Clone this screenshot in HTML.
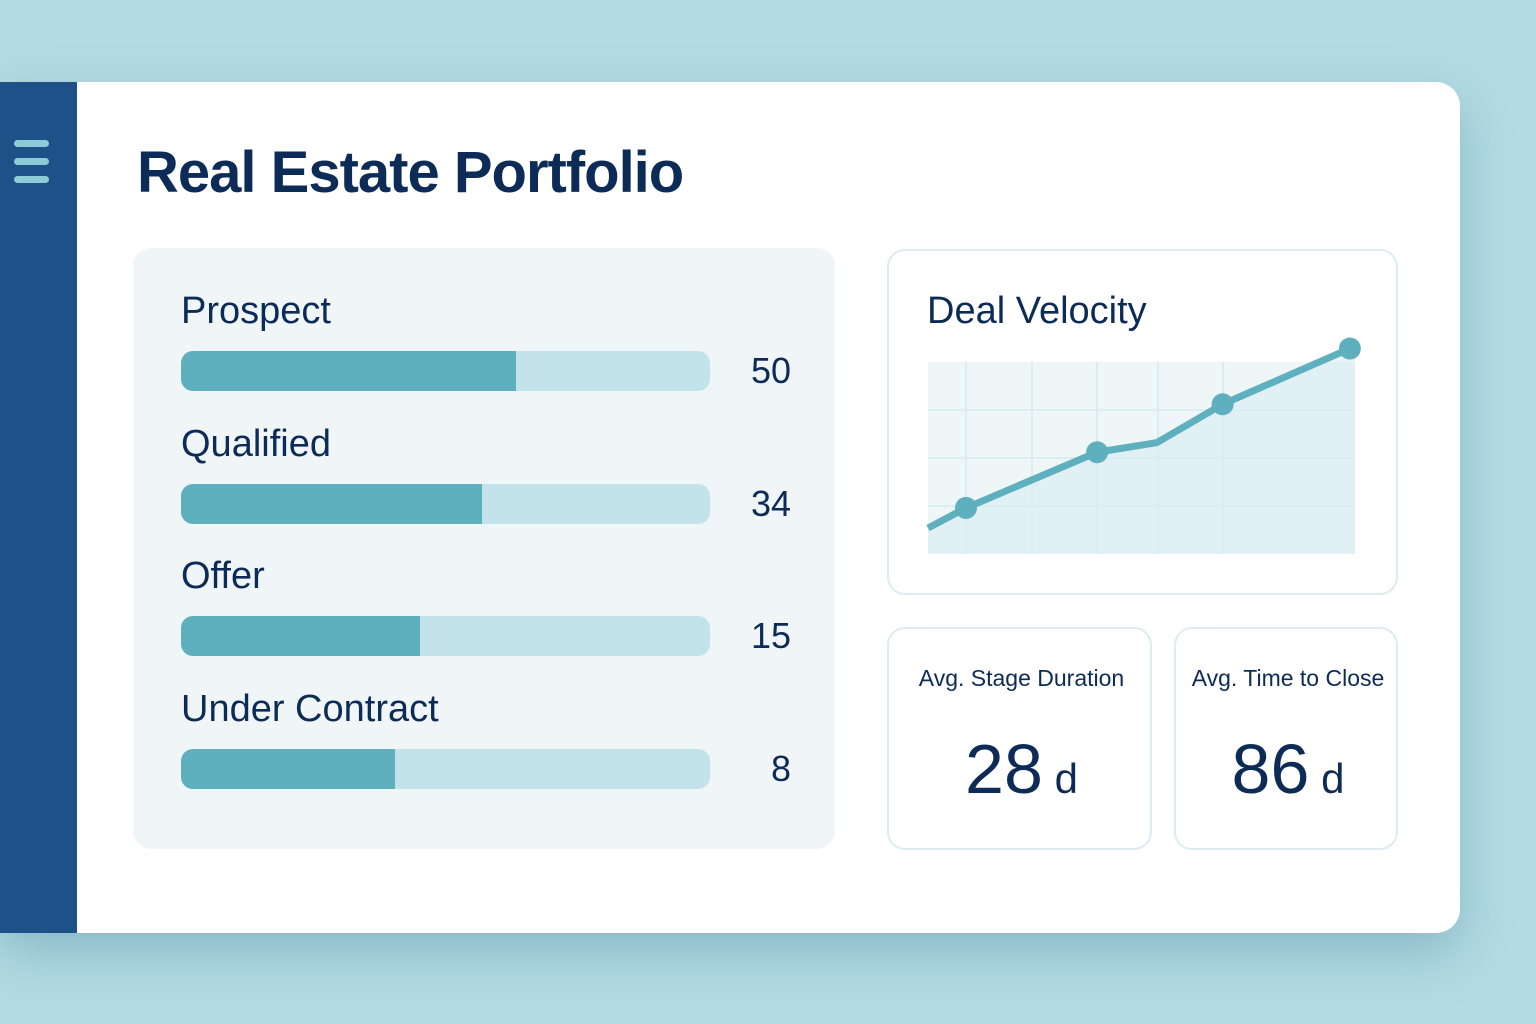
<!DOCTYPE html>
<html><head><meta charset="utf-8"><style>
*{margin:0;padding:0;box-sizing:border-box}
body{width:1536px;height:1024px;background:#b3dbe3;font-family:"Liberation Sans",sans-serif;position:relative;overflow:hidden;color:#0d2b57}
.abs{position:absolute}
.card{left:0;top:82px;width:1460px;height:851px;background:#fff;border-radius:0 24px 24px 0;box-shadow:0 20px 50px rgba(60,120,150,.35);overflow:hidden}
.side{left:0;top:0;width:77px;height:851px;background:#1f5189;border-radius:0 0 0 0}
.hl{left:14px;width:35px;height:7px;border-radius:4px;background:#8dcbd8}
.lbl{font-size:38px;left:181px}
.track{left:181px;width:529px;height:40px;border-radius:12px;background:#c3e3ea;overflow:hidden}
.fill{height:100%;background:#5fb0bf}
.val{font-size:36px;right:0;width:791px;text-align:right}
.kpi{border:2px solid #dcecf1;border-radius:18px;background:#fff}
</style></head><body>
<div class="abs card">
 <div class="abs side">
  <div class="abs hl" style="top:58px"></div>
  <div class="abs hl" style="top:76px"></div>
  <div class="abs hl" style="top:94px"></div>
 </div>
</div>
<div class="abs" style="left:137px;top:139px;font-size:58px;font-weight:bold;color:#0d2b57;letter-spacing:-1px">Real Estate Portfolio</div>
<div class="abs" style="left:133px;top:248px;width:702px;height:601px;background:#f0f6f8;border-radius:18px"></div>
<div id="bars"></div>
<div class="abs kpi" style="left:887px;top:249px;width:511px;height:346px"></div>
<div class="abs" style="left:927px;top:290px;font-size:38px">Deal Velocity</div>
<svg class="abs" id="chart" style="left:0;top:0" width="1536" height="1024"></svg>
<div class="abs kpi" style="left:887px;top:627px;width:265px;height:223px">
 <div class="abs" style="left:0;width:265px;top:36px;text-align:center;font-size:23px">Avg. Stage Duration</div>
 <div class="abs" style="left:0;width:265px;top:100px;text-align:center;font-size:70px">28<span style="font-size:42px"> d</span></div>
</div>
<div class="abs kpi" style="left:1174px;top:627px;width:224px;height:223px">
 <div class="abs" style="left:0;width:224px;top:36px;text-align:center;font-size:23px">Avg. Time to Close</div>
 <div class="abs" style="left:0;width:224px;top:100px;text-align:center;font-size:70px">86<span style="font-size:42px"> d</span></div>
</div>
<script>
const stages=["Prospect","Qualified","Offer","Under Contract"];
const counts=[50,34,15,8];
const fillFractions=[0.633,0.569,0.452,0.405];
const bx=document.getElementById('bars');
stages.forEach((s,i)=>{
 const top=290+i*132.5;
 const l=document.createElement('div');l.className='abs lbl';l.style.top=top+'px';l.textContent=s;
 
 
 bx.appendChild(l);
 const t=document.createElement('div');t.className='abs track';t.style.top=(top+61)+'px';
 
 
 const f=document.createElement('div');f.className='fill';f.style.width=(fillFractions[i]*100)+'%';
 
 
 t.appendChild(f);bx.appendChild(t);
 const v=document.createElement('div');v.className='abs val';v.style.left='0';v.style.top=(top+60)+'px';v.textContent=counts[i];
 
 
 bx.appendChild(v);
});
const xs=[0,0.89,3.96,5.36,6.9,9.88];
const ys=[13.5,24,53,58,78,107];
const markers=[false,true,true,false,true,true];
const X0=928,X1=1355,Y0=554,Y1=362;
const sx=v=>X0+v/10*(X1-X0), sy=v=>Y0-v/100*(Y0-Y1);
const svg=document.getElementById('chart');const NS='http://www.w3.org/2000/svg';
function mk(tag,a){const e=document.createElementNS(NS,tag);for(const k in a)e.setAttribute(k,a[k]);svg.appendChild(e);return e;}
const bg=mk('rect',{x:X0,y:Y1,width:X1-X0,height:Y0-Y1,fill:'#eef6f8'});


[966,1032,1097,1158,1223].forEach(x=>{const g=mk('line',{x1:x,x2:x,y1:Y1,y2:Y0,stroke:'#d6eaef','stroke-width':1.5});

});
[410,458,506].forEach(y=>{const g=mk('line',{x1:X0,x2:X1,y1:y,y2:y,stroke:'#d6eaef','stroke-width':1.5});

});
const pts=xs.map((x,i)=>[sx(x),sy(ys[i])]);
const area=mk('path',{d:'M'+pts.map(p=>p.join(',')).join(' L')+` L${X1},${sy(ys[5])} L${X1},${Y0} L${X0},${Y0} Z`,fill:'#d8edf2',opacity:0.6});


const ln=mk('polyline',{points:pts.map(p=>p.join(',')).join(' '),fill:'none',stroke:'#5fb0bf','stroke-width':7,'stroke-linejoin':'round'});


pts.forEach((p,i)=>{if(!markers[i])return;const c=mk('circle',{cx:p[0],cy:p[1],r:11,fill:'#5fb0bf'});

});
</script>
</body></html>
